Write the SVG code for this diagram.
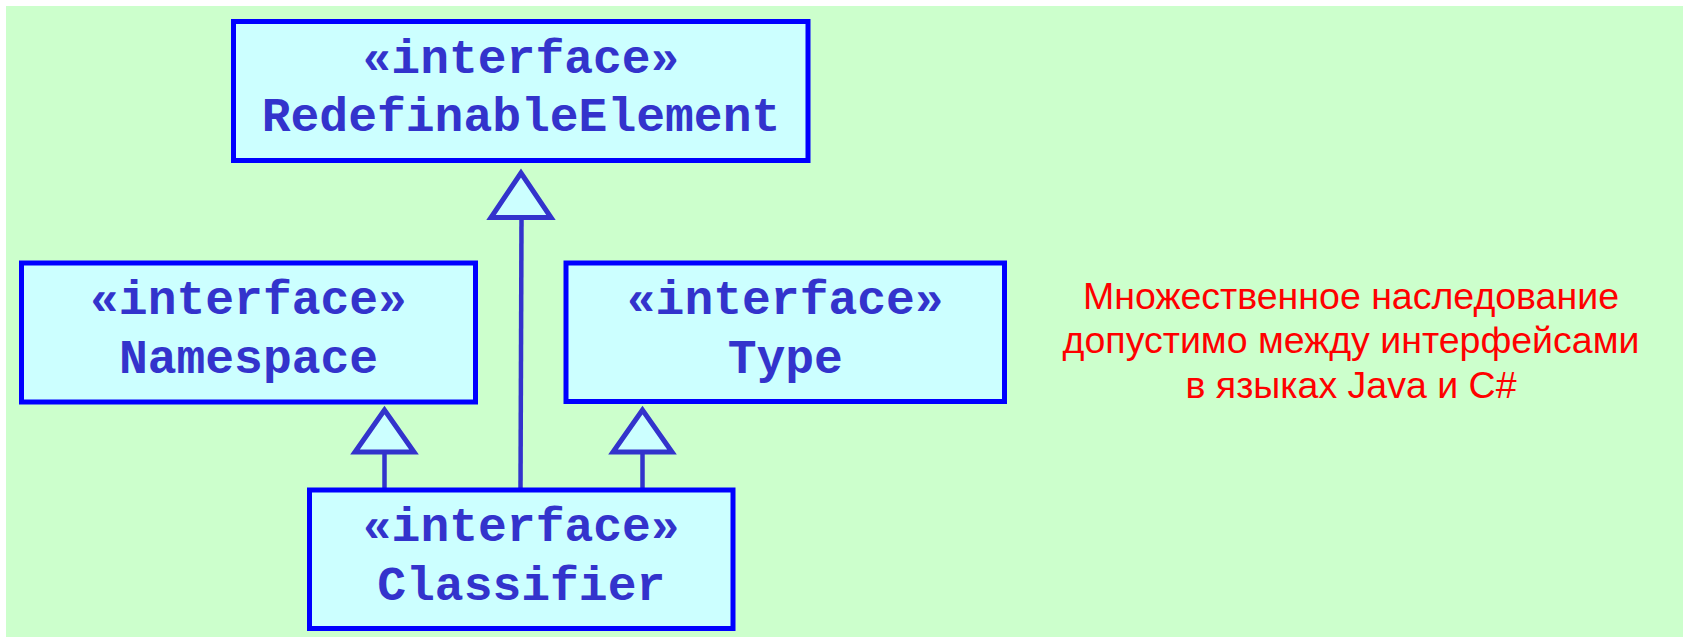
<svg xmlns="http://www.w3.org/2000/svg" width="1683" height="637" viewBox="0 0 1683 637">
<style>
.box{fill:#CCFFFF;stroke:#0000FF;stroke-width:5}
.t{font-family:"Liberation Mono","Courier New",monospace;font-weight:bold;font-size:48px;fill:#3333CC;text-anchor:middle}
.tri{fill:#CCFFFF;stroke:#3333CC;stroke-width:5;stroke-linejoin:miter}
.ln{stroke:#3333CC;stroke-width:4.5;fill:none}
.note{font-family:"Liberation Sans",Arial,sans-serif;font-size:37.5px;fill:#FF0000;text-anchor:middle}
</style>
<rect x="0" y="0" width="1683" height="637" fill="#FFFFFF"/>
<rect x="6" y="6" width="1677" height="631" fill="#CCFFCC"/>
<g id="connectors">
<line class="ln" x1="521.5" y1="218" x2="520.5" y2="490"/>
<line class="ln" x1="384.5" y1="452" x2="384.5" y2="490"/>
<line class="ln" x1="642.5" y1="452" x2="642.5" y2="490"/>
<polygon class="tri" points="521,173 491,217.5 551,217.5"/>
<polygon class="tri" points="384.5,410 355,452 414,452"/>
<polygon class="tri" points="642.5,410 613,452 672,452"/>
</g>
<g id="redefinableElement">
<rect class="box" x="233.5" y="21.5" width="574.5" height="139"/>
<text class="t" x="521" y="72.5">«interface»</text>
<text class="t" x="521" y="130.5">RedefinableElement</text>
</g>
<g id="namespace">
<rect class="box" x="21.5" y="263" width="454" height="139"/>
<text class="t" x="248.5" y="314">«interface»</text>
<text class="t" x="248.5" y="372.5">Namespace</text>
</g>
<g id="type">
<rect class="box" x="566" y="263" width="438.5" height="138.5"/>
<text class="t" x="785.25" y="314">«interface»</text>
<text class="t" x="785.25" y="372.5">Type</text>
</g>
<g id="classifier">
<rect class="box" x="309.5" y="490" width="423.5" height="138.5"/>
<text class="t" x="521.25" y="541">«interface»</text>
<text class="t" x="521.25" y="600">Classifier</text>
</g>
<g id="note">
<text class="note" x="1351" y="308.5">Множественное наследование</text>
<text class="note" x="1351" y="352.5">допустимо между интерфейсами</text>
<text class="note" x="1351" y="397.5">в языках Java и C#</text>
</g>
</svg>
